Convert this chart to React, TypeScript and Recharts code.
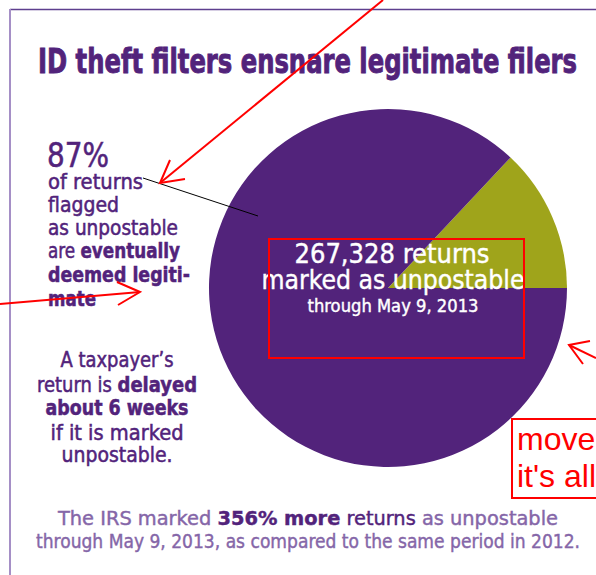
import React from "react"
import { PieChart, Pie, Cell } from "recharts"

// slice data (87% legitimate)
const sliceNames = ["Not legitimate", "Eventually deemed legitimate"]
const sliceShares = [13, 87]
const sliceColors = ["#9fa41b", "#52237b"]

const leftLines = ["of returns", "flagged", "as unpostable"]
const totalReturns = "267,328"
const throughDate = "through May 9, 2013"
const increasePct = "356%"

const PURPLE = "#52237b"
const LIGHT = "#8566a8"
const COND = "'Liberation Sans Narrow', 'DejaVu Sans Condensed', 'Arial Narrow', sans-serif"

const chartData = sliceNames.map((name, i) => ({ name, value: sliceShares[i] }))

// a bit of stroke to get the heavier look of the original condensed face
const heavy = (c: string, w = 0.5) => ({ stroke: c, strokeWidth: w })

export default function App() {
  return (
    <div style={{ position: "absolute", left: 0, top: 0, width: 596, height: 575, background: "#fff" }}>
      <div style={{ position: "absolute", left: 0, top: 0 }}>
        <PieChart width={596} height={575}>
          <Pie
            data={chartData}
            dataKey="value"
            cx={383}
            cy={283}
            outerRadius={179}
            startAngle={0}
            endAngle={360}
            stroke="none"
            isAnimationActive={false}
          >
            {chartData.map((d, i) => (
              <Cell key={d.name} fill={sliceColors[i]} />
            ))}
          </Pie>
        </PieChart>
      </div>

      <svg
        width={596}
        height={575}
        style={{ position: "absolute", left: 0, top: 0, pointerEvents: "none" }}
      >
        {/* frame */}
        <line x1={10} y1={9.5} x2={596} y2={9.5} stroke="#5e3f8e" strokeWidth={1.5} />
        <line x1={10} y1={9} x2={10} y2={575} stroke="#a58fc6" strokeWidth={2} />

        {/* title */}
        <text x={38} y={73} fontFamily={COND} fontWeight="bold" fontSize={34} fill={PURPLE}
          {...heavy(PURPLE, 0.9)} textLength={539} lengthAdjust="spacingAndGlyphs">
          ID theft filters ensnare legitimate filers
        </text>

        {/* left callout */}
        <g fontFamily={COND} fill={PURPLE} {...heavy(PURPLE)}>
          <text x={47} y={167} fontSize={33} textLength={62} lengthAdjust="spacingAndGlyphs">
            {sliceShares[1]}%
          </text>
          <text x={48} y={189} fontSize={21} textLength={95} lengthAdjust="spacingAndGlyphs">{leftLines[0]}</text>
          <text x={48} y={212} fontSize={21} textLength={71} lengthAdjust="spacingAndGlyphs">{leftLines[1]}</text>
          <text x={48} y={235} fontSize={21} textLength={130} lengthAdjust="spacingAndGlyphs">{leftLines[2]}</text>
          <text x={48} y={258} fontSize={21} textLength={132} lengthAdjust="spacingAndGlyphs">
            are <tspan fontWeight="bold">eventually</tspan>
          </text>
          <text x={48} y={282} fontSize={21} fontWeight="bold" textLength={142} lengthAdjust="spacingAndGlyphs">deemed legiti-</text>
          <text x={48} y={306} fontSize={21} fontWeight="bold" textLength={48} lengthAdjust="spacingAndGlyphs">mate</text>
        </g>

        <line x1={143} y1={178} x2={258} y2={216} stroke="#000" strokeWidth={1} />

        {/* delay note */}
        <g fontFamily={COND} fill={PURPLE} fontSize={21} textAnchor="middle" {...heavy(PURPLE)}>
          <text x={117} y={367} textLength={113} lengthAdjust="spacingAndGlyphs">A taxpayer’s</text>
          <text x={117} y={392} textLength={160} lengthAdjust="spacingAndGlyphs">
            return is <tspan fontWeight="bold">delayed</tspan>
          </text>
          <text x={117} y={415} fontWeight="bold" textLength={143} lengthAdjust="spacingAndGlyphs">about 6 weeks</text>
          <text x={117} y={440} textLength={133} lengthAdjust="spacingAndGlyphs">if it is marked</text>
          <text x={117} y={462} textLength={111} lengthAdjust="spacingAndGlyphs">unpostable.</text>
        </g>

        {/* pie centre label */}
        <g fontFamily={COND} fill="#fff" textAnchor="middle" {...heavy("#fff", 0.4)}>
          <text x={392} y={263} fontSize={27} textLength={195} lengthAdjust="spacingAndGlyphs">
            {totalReturns} returns
          </text>
          <text x={393} y={289} fontSize={27} textLength={263} lengthAdjust="spacingAndGlyphs">
            marked as unpostable
          </text>
          <text x={393} y={312} fontSize={18} textLength={171} lengthAdjust="spacingAndGlyphs">
            {throughDate}
          </text>
        </g>

        {/* bottom note */}
        <text x={308} y={525} textAnchor="middle" fontFamily={COND} fontSize={20} fill={LIGHT}
          {...heavy(LIGHT, 0.4)} textLength={500} lengthAdjust="spacingAndGlyphs">
          The IRS marked <tspan fontWeight="bold" fill={PURPLE} stroke={PURPLE}>{increasePct} more</tspan>
          <tspan fill={PURPLE} stroke={PURPLE}> returns</tspan> as unpostable
        </text>
        <text x={308} y={548} textAnchor="middle" fontFamily={COND} fontSize={20} fill={LIGHT}
          {...heavy(LIGHT, 0.4)} textLength={544} lengthAdjust="spacingAndGlyphs">
          {throughDate}, as compared to the same period in 2012.
        </text>

        {/* red review markup */}
        <g stroke="#ff0000" strokeWidth={2} fill="none">
          <line x1={383} y1={0} x2={160} y2={183} />
          <polyline points="170,160 160,183 185,179" />
          <line x1={0} y1={304} x2={140} y2={292} />
          <polyline points="117,282 140,292 118,305" />
          <rect x={269} y={239} width={255} height={119} />
          <polyline points="590,341 569,345 583,364" />
          <line x1={569} y1={345} x2={596} y2={358} />
          <rect x={512} y={419} width={90} height={79} />
        </g>
        <text x={517} y={450} fontFamily="'Liberation Sans', Arial, sans-serif" fontSize={32} fill="#ff0000">move</text>
        <text x={517} y={487} fontFamily="'Liberation Sans', Arial, sans-serif" fontSize={32} fill="#ff0000">it's all</text>
      </svg>
    </div>
  )
}
